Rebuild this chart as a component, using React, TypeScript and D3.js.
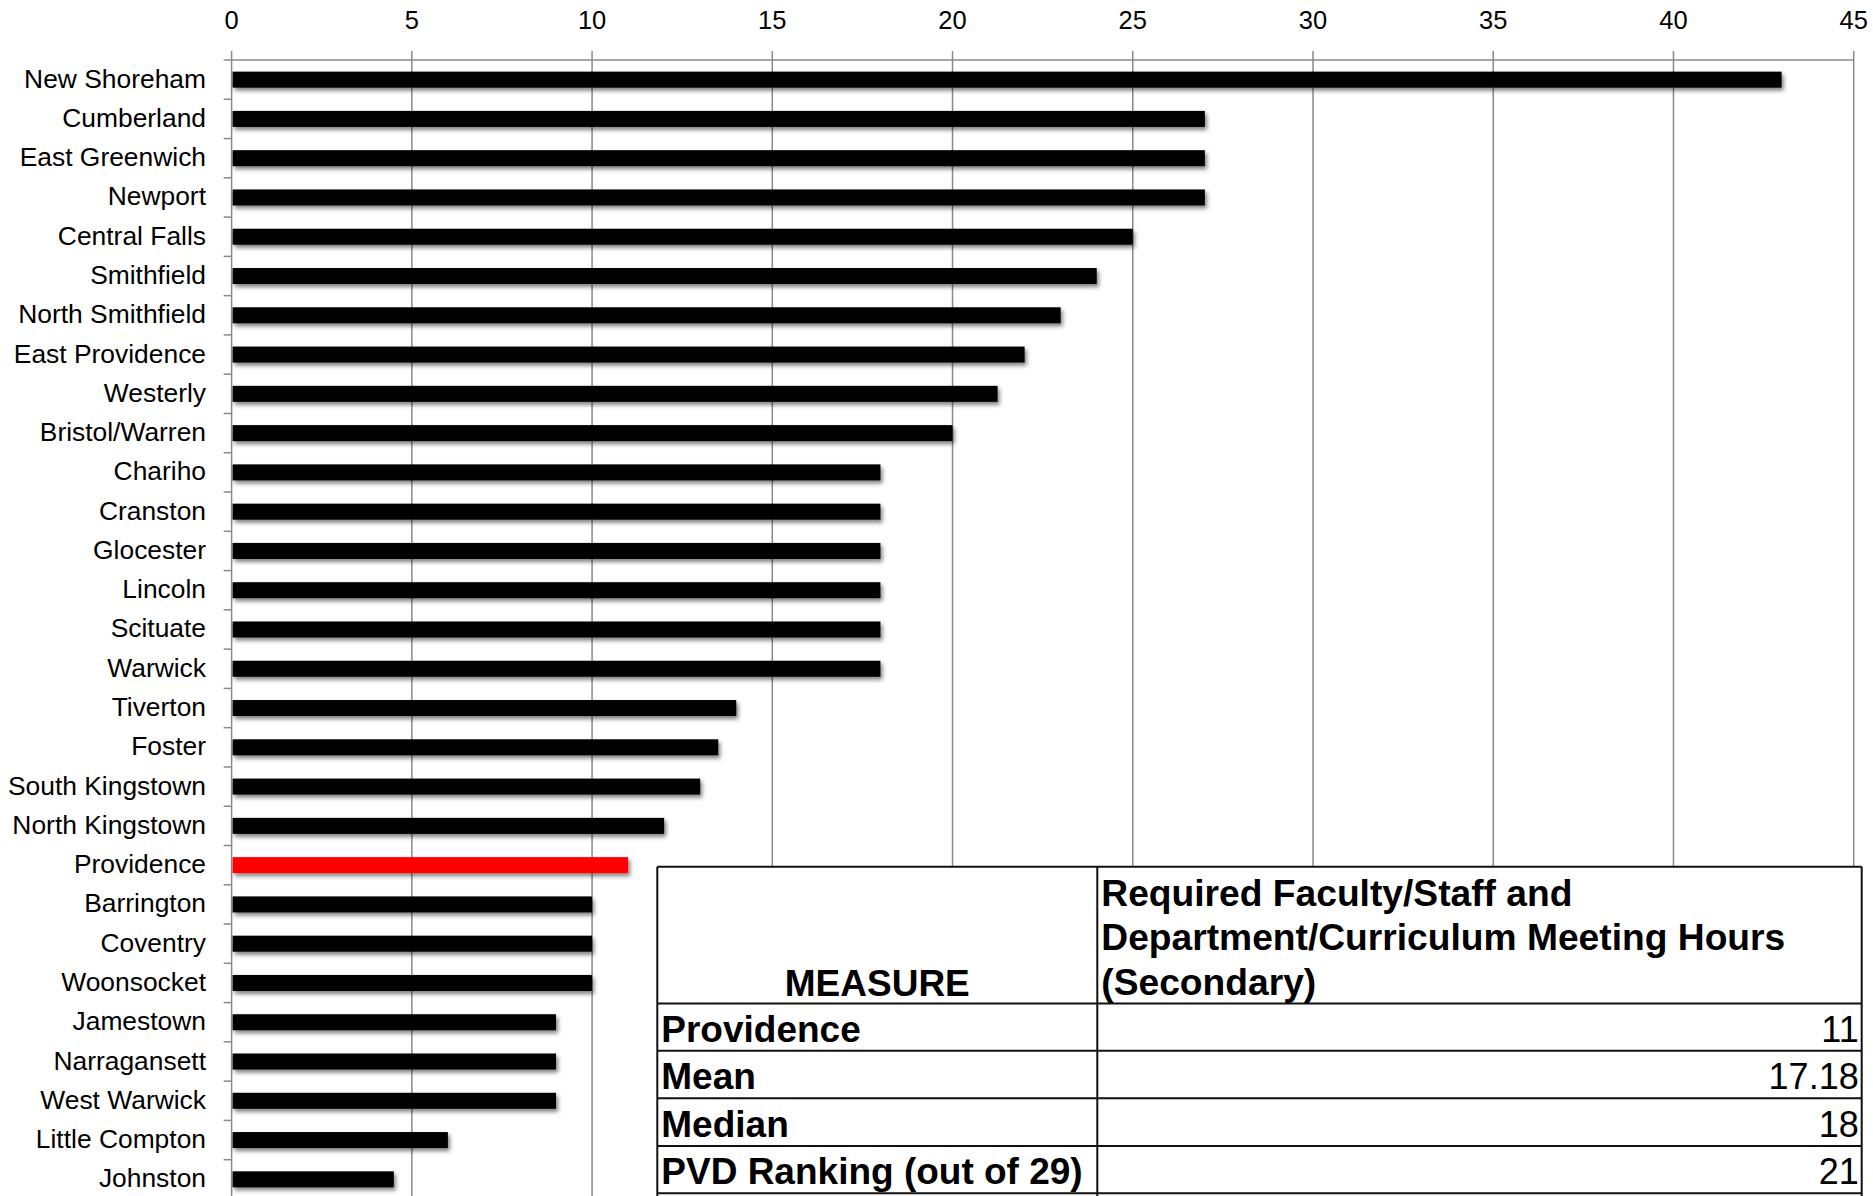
import React from "react";
import * as d3 from "d3";

const categories = [
  "New Shoreham", "Cumberland", "East Greenwich", "Newport", "Central Falls",
  "Smithfield", "North Smithfield", "East Providence", "Westerly", "Bristol/Warren",
  "Chariho", "Cranston", "Glocester", "Lincoln", "Scituate", "Warwick",
  "Tiverton", "Foster", "South Kingstown", "North Kingstown", "Providence",
  "Barrington", "Coventry", "Woonsocket", "Jamestown", "Narragansett",
  "West Warwick", "Little Compton", "Johnston",
];
const values = [
  43, 27, 27, 27, 25,
  24, 23, 22, 21.25, 20,
  18, 18, 18, 18, 18, 18,
  14, 13.5, 13, 12, 11,
  10, 10, 10, 9, 9,
  9, 6, 4.5,
];
const highlight = "Providence";
const xTicks = [0, 5, 10, 15, 20, 25, 30, 35, 40, 45];

const tableHeader = ["MEASURE", "Required Faculty/Staff and", "Department/Curriculum Meeting Hours", "(Secondary)"];
const tableLabels = ["Providence", "Mean", "Median", "PVD Ranking (out of 29)"];
const tableValues = ["11", "17.18", "18", "21"];

const W = 1873;
const H = 1196;
const FONT = "'Liberation Sans', Arial, Helvetica, sans-serif";

export default function App() {
  const x = d3.scaleLinear().domain([0, 45]).range([231.6, 1853.7]);
  const y = d3.scaleBand().domain(categories).range([60, 60 + 29 * 39.275]).padding(0);
  const bw = y.bandwidth();
  const barH = 16;
  const axisTop = 60;
  const bottom = 60 + 29 * 39.275;

  // table geometry
  const tL = 657.3, tR = 1861.7, tD = 1097.3;
  const rowLines = [866.7, 1003.5, 1050.8, 1098.3, 1146, 1193.3];

  return (
    <div style={{ position: "absolute", left: 0, top: 0, width: W, height: H, background: "#fff" }}>
      <svg width={W} height={H} style={{ display: "block" }} fontFamily={FONT}>
        <defs>
          <filter id="shadow" x="-5%" y="-60%" width="110%" height="260%">
            <feDropShadow dx="2" dy="3" stdDeviation="2.2" floodColor="#000" floodOpacity="0.5" />
          </filter>
        </defs>
        <rect x={0} y={0} width={W} height={H} fill="#fff" />
        {/* gridlines & top ticks */}
        {xTicks.map((t) => (
          <g key={t}>
            <line
              x1={x(t)} x2={x(t)} y1={axisTop - 9} y2={t === 0 ? axisTop : H}
              stroke="#8a8a8a" strokeWidth={1.5}
            />
            <text x={x(t)} y={28.5} fontSize={25.5} textAnchor="middle" fill="#000">{t}</text>
          </g>
        ))}
        {/* top axis line */}
        <line x1={x(0)} x2={x(45)} y1={axisTop} y2={axisTop} stroke="#8a8a8a" strokeWidth={1.5} />
        {/* left axis line */}
        <line x1={x(0)} x2={x(0)} y1={axisTop} y2={H} stroke="#8a8a8a" strokeWidth={1.5} />
        {categories.map((c, i) => (
          <line key={"tk" + i} x1={x(0) - 8} x2={x(0)} y1={(y(c) as number)} y2={(y(c) as number)}
            stroke="#8a8a8a" strokeWidth={1.5} />
        ))}
        <line x1={x(0) - 8} x2={x(0)} y1={bottom} y2={bottom} stroke="#8a8a8a" strokeWidth={1.5} />
        {/* category labels */}
        {categories.map((c) => (
          <text key={"lb" + c} x={206} y={(y(c) as number) + bw / 2 + 8} fontSize={26.4}
            textAnchor="end" fill="#000">{c}</text>
        ))}
        {/* bars */}
        {categories.map((c, i) => (
          <rect key={"b" + c} x={x(0) + 1} y={(y(c) as number) + bw / 2 - barH / 2}
            width={x(values[i]) - x(0) - 1} height={barH}
            fill={c === highlight ? "#ff0000" : "#000"} filter="url(#shadow)" />
        ))}
        {/* table */}
        <rect x={tL} y={rowLines[0]} width={tR - tL} height={H - rowLines[0] + 10} fill="#fff" />
        {rowLines.map((ly, i) => (
          <line key={"rl" + i} x1={tL} x2={tR} y1={ly} y2={ly} stroke="#111" strokeWidth={2} />
        ))}
        <line x1={tL} x2={tL} y1={rowLines[0]} y2={H + 5} stroke="#111" strokeWidth={2} />
        <line x1={tR} x2={tR} y1={rowLines[0]} y2={H + 5} stroke="#111" strokeWidth={2} />
        <line x1={tD} x2={tD} y1={rowLines[0]} y2={H + 5} stroke="#111" strokeWidth={2} />
        <text x={(tL + tD) / 2} y={996} fontSize={37} fontWeight="bold" textAnchor="middle" fill="#000">
          {tableHeader[0]}
        </text>
        {tableHeader.slice(1).map((t, i) => (
          <text key={"h" + i} x={tD + 4} y={905.7 + i * 44.7} fontSize={37.2} fontWeight="bold" fill="#000">{t}</text>
        ))}
        {tableLabels.map((t, i) => (
          <text key={"tl" + i} x={tL + 4} y={rowLines[1] + 38.5 + i * 47.4} fontSize={37} fontWeight="bold" fill="#000">{t}</text>
        ))}
        {tableValues.map((t, i) => (
          <text key={"tv" + i} x={tR - 3} y={rowLines[1] + 38.5 + i * 47.4} fontSize={36} textAnchor="end" fill="#000">{t}</text>
        ))}
      </svg>
    </div>
  );
}
